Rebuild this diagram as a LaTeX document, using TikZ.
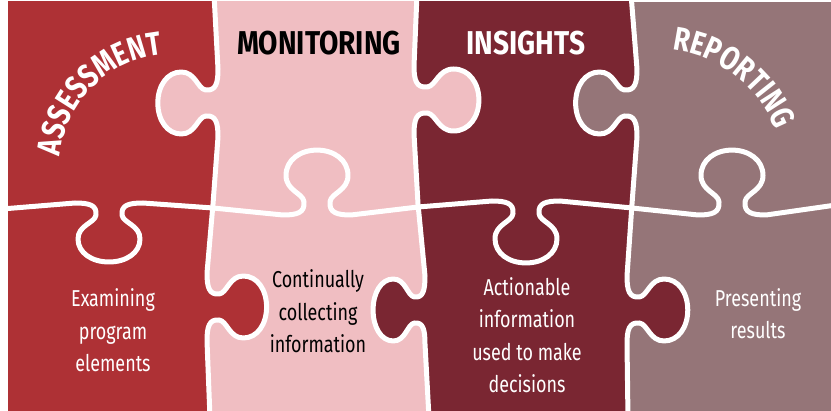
\documentclass[tikz,border=0pt]{standalone}
\usepackage{fontspec}
\setmainfont{Fira Sans}
\newfontfamily\titlefont{Fira Sans}[FakeStretch=0.85]
\newfontfamily\arcfont{Fira Sans}[FakeStretch=0.8]
\newfontfamily\bodyfont{Fira Sans}[FakeStretch=0.78]
\usetikzlibrary{decorations.text}
\definecolor{cRed}{RGB}{174,49,53}
\definecolor{cPink}{RGB}{240,190,194}
\definecolor{cMaroon}{RGB}{122,38,50}
\definecolor{cMauve}{RGB}{149,117,120}
% vertical seam knob: x0, yc, signed depth scale (+ = right)
\newcommand\vkn[3]{%
 -- ({#1},{#2-34}) .. controls ({#1},{#2-20}) and ({#1+2*(#3)},{#2-12}) .. ({#1+12*(#3)},{#2-13})
 .. controls ({#1+20*(#3)},{#2-14}) and ({#1+22*(#3)},{#2-31}) .. ({#1+36*(#3)},{#2-31})
 .. controls ({#1+50*(#3)},{#2-31}) and ({#1+59*(#3)},{#2-17}) .. ({#1+59*(#3)},{#2})
 .. controls ({#1+59*(#3)},{#2+17}) and ({#1+50*(#3)},{#2+31}) .. ({#1+36*(#3)},{#2+31})
 .. controls ({#1+22*(#3)},{#2+31}) and ({#1+20*(#3)},{#2+14}) .. ({#1+12*(#3)},{#2+13})
 .. controls ({#1+2*(#3)},{#2+12}) and ({#1},{#2+20}) .. ({#1},{#2+34})}
% horizontal seam knob: xc, y0, signed depth scale (+ = down)
\newcommand\hkn[3]{%
 -- ({#1-34},{#2}) .. controls ({#1-20},{#2}) and ({#1-12},{#2+2*(#3)}) .. ({#1-13},{#2+12*(#3)})
 .. controls ({#1-14},{#2+20*(#3)}) and ({#1-31},{#2+22*(#3)}) .. ({#1-31},{#2+36*(#3)})
 .. controls ({#1-31},{#2+50*(#3)}) and ({#1-17},{#2+59*(#3)}) .. ({#1},{#2+59*(#3)})
 .. controls ({#1+17},{#2+59*(#3)}) and ({#1+31},{#2+50*(#3)}) .. ({#1+31},{#2+36*(#3)})
 .. controls ({#1+31},{#2+22*(#3)}) and ({#1+14},{#2+20*(#3)}) .. ({#1+13},{#2+12*(#3)})
 .. controls ({#1+12},{#2+2*(#3)}) and ({#1+20},{#2}) .. ({#1+34},{#2})}
\newcommand\seamOne{(214,-6) \vkn{218}{103}{-1.02} -- (213,204) \vkn{207}{307}{1.01} -- (210,418)}
\newcommand\seamTwo{(417,-6) \vkn{414}{100}{1.1} -- (418,204) \vkn{425}{310}{-0.88} -- (429,418)}
\newcommand\seamThree{(631,-6) \vkn{637}{103}{-1.04} -- (632,204) \vkn{627}{310}{1.03} -- (628,418)}
\newcommand\seamH{(2,209) \hkn{109}{203}{1} -- (213,208) \hkn{317}{215}{-1.1} -- (418,207) \hkn{526}{201}{1.05} -- (632,208) \hkn{732}{215}{-1.1} -- (836,205)}
\tikzset{
 seam/.style={draw=white, line width=5pt, line join=round, line cap=round},
 title/.style={font=\titlefont\bfseries\fontsize{33}{33}\selectfont, inner sep=0pt, anchor=base},
 body/.style={font=\bodyfont\fontsize{23}{32.5}\selectfont, align=center, inner sep=0pt, anchor=base},
}
\begin{document}
\begin{tikzpicture}[x=1pt,y=-1pt]
\useasboundingbox (0,0) rectangle (831,411);
\fill[white] (0,0) rectangle (831,411);
\begin{scope}
\clip (8,2) rectangle (831,411);
\fill[cMauve] (8,2) rectangle (831,411);
\fill[cMaroon] (8,-6) -- \seamThree -- (8,418) -- cycle;
\fill[cPink] (8,-6) -- \seamTwo -- (8,418) -- cycle;
\fill[cRed] (8,-6) -- \seamOne -- (8,418) -- cycle;
\path[seam] \seamOne;
\path[seam] \seamTwo;
\path[seam] \seamThree;
\path[seam] \seamH;
\end{scope}
\node[title, text=black] (mon) at (319,55) {MONITORING};
\node[title, text=white] (ins) at (526,55) {INSIGHTS};
\node[body, text=white] (exa) at (113,372) {Examining\\program\\elements};
\node[body, text=black] (con) at (318,353) {Continually\\collecting\\information};
\node[body, text=white] (act) at (527,393) {Actionable\\information\\used to make\\decisions};
\node[body, text=white] (pre) at (758,339) {Presenting\\results};
\begin{scope}[y=1pt]
\path[decorate, decoration={text along path, text align=center, text color=white,
  text={|\arcfont\bfseries\fontsize{33}{33}\selectfont|ASSESSMENT}}]
  (172,-167) ++(184.7:112.5) arc[start angle=184.7, end angle=84.7, radius=112.5];
\path[decorate, decoration={text along path, text align=center, text color=white,
  text={|\arcfont\bfseries\fontsize{33}{33}\selectfont|REPORTING}}]
  (659,-174) ++(102.25:124.5) arc[start angle=102.25, end angle=2.25, radius=124.5];
\end{scope}
\end{tikzpicture}
\end{document}
